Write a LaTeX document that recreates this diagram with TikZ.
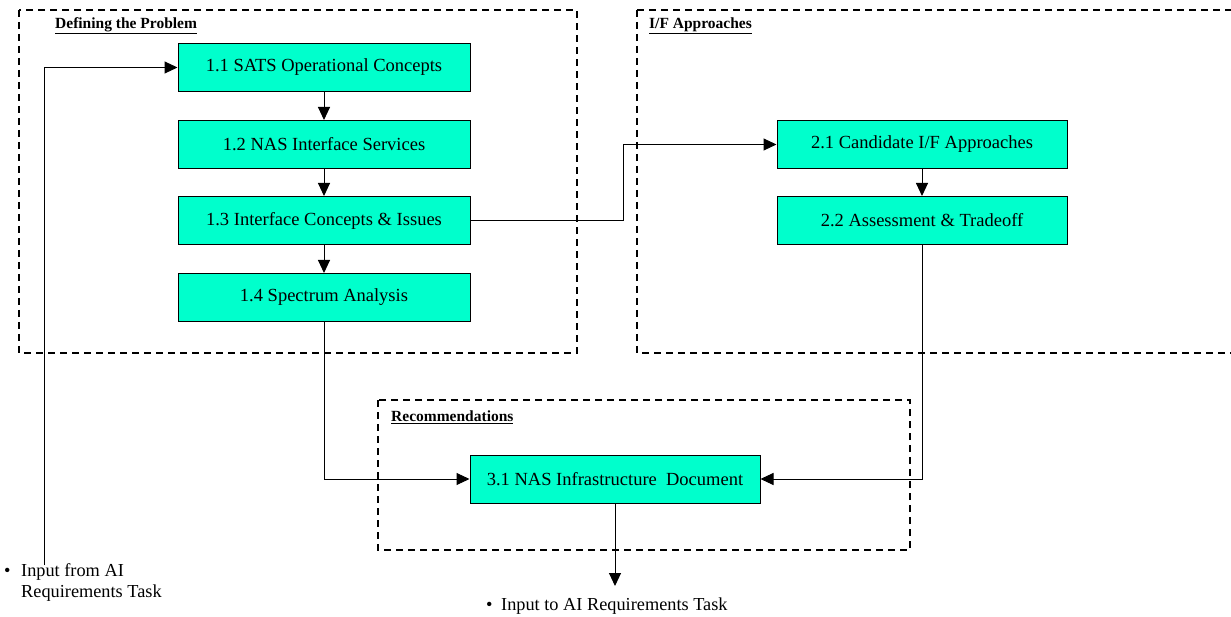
\documentclass[tikz,border=0pt]{standalone}
\usepackage{fontspec}
\setmainfont{Liberation Serif}
\usetikzlibrary{arrows.meta}
\definecolor{boxgreen}{HTML}{00FFCC}
\begin{document}
\begin{tikzpicture}[x=1pt,y=-1pt,
  taskbox/.style={draw=black, line width=1pt, fill=boxgreen, minimum width=292pt, minimum height=48pt, inner sep=0pt, font=\fontsize{18.5}{21}\selectfont},
  group/.style={draw=black, line width=1.4pt, dash pattern=on 7pt off 5pt},
  grouptitle/.style={anchor=west, inner sep=0pt, font=\fontsize{15.5}{18}\selectfont\bfseries},
  conn/.style={draw=black, line width=1pt, -{Triangle[length=13pt,width=12pt]}},
  note/.style={anchor=base west, inner sep=0pt, align=left, font=\fontsize{18.3}{21}\selectfont}
]
\useasboundingbox (0,0) rectangle (1231,617);
\fill[white] (0,0) rectangle (1231,617);
% groups
\draw[group] (19,10) rectangle (577,353);
\draw[group] (637,10) -- (1240,10) (637,10) -- (637,353) -- (1240,353);
\draw[group] (378,400) rectangle (910,550);
\node[grouptitle] (t1) at (55,26) {\underline{Defining the Problem}};
\node[grouptitle] (t2) at (649,26) {\underline{I/F Approaches}};
\node[grouptitle] (t3) at (391,417) {\underline{Recommendations}};
% tasks
\node[taskbox] (a) at (324,67.5) {1.1 SATS Operational Concepts};
\node[taskbox] (b) at (324,144.5) {1.2 NAS Interface Services};
\node[taskbox] (c) at (324,220.5) {1.3 Interface Concepts \& Issues};
\node[taskbox] (d) at (324,297.5) {1.4 Spectrum Analysis};
\node[taskbox, minimum width=290pt] (e) at (922,144.5) {2.1 Candidate I/F Approaches};
\node[taskbox, minimum width=290pt] (f) at (922,220.5) {2.2 Assessment \& Tradeoff};
\node[taskbox, minimum width=290pt] (g) at (615,479) {3.1 NAS Infrastructure\ \ Document};
% notes
\coordinate (inS) at (44,565);
\coordinate (outE) at (615,586);
\node[note] (n1) at (4,597) {\makebox[17pt][l]{\textbullet}Input from AI\\\hspace*{17pt}Requirements Task};
\node[note] (n2) at (486,610) {\makebox[15pt][l]{\textbullet}Input to AI Requirements Task};
% connectors
\draw[conn] (inS) |- (a.west);
\draw[conn] (a) -- (b);
\draw[conn] (b) -- (c);
\draw[conn] (c) -- (d);
\draw[conn] (c.east) -- (623,220.5) |- (e.west);
\draw[conn] (e) -- (f);
\draw[conn] (f.south) |- (g.east);
\draw[conn] (d.south) |- (g.west);
\draw[conn] (g.south) -- (outE);
\end{tikzpicture}
\end{document}
